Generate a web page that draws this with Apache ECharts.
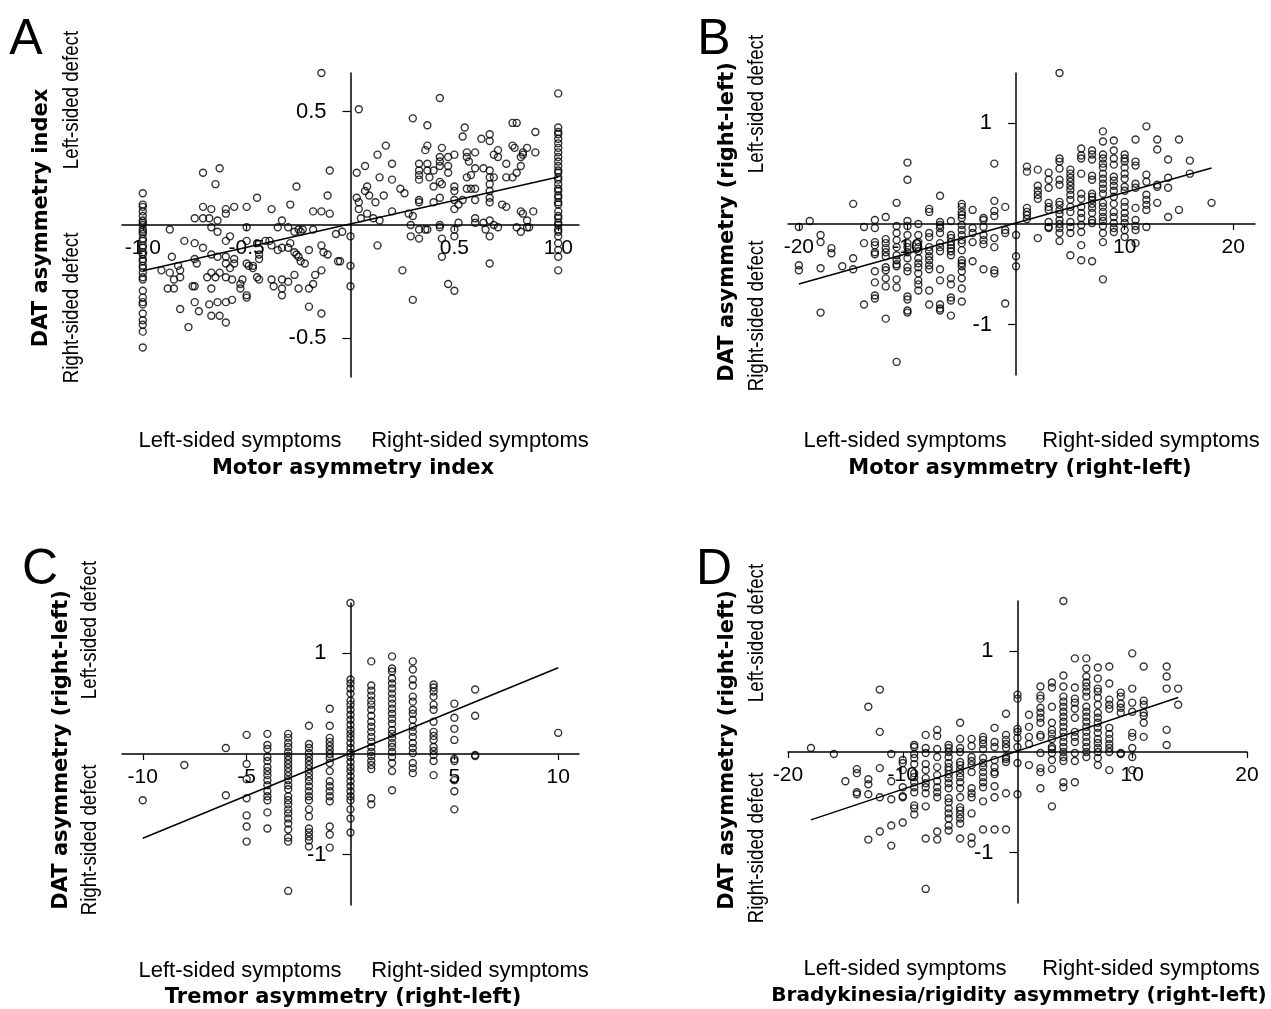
<!DOCTYPE html>
<html>
<head>
<meta charset="utf-8">
<title>DAT asymmetry vs motor asymmetry</title>
<script src="https://cdn.jsdelivr.net/npm/echarts@6/dist/echarts.min.js"></script>
<style>
  html, body { margin: 0; padding: 0; background: #fff; }
  #chart { width: 1271px; height: 1009px; }
</style>
</head>
<body>
<div id="chart"></div>
<script>
// ---- panel A : motor asymmetry index vs DAT asymmetry index ----
var colA_left = [0.14, 0.09, 0.08, 0.06, 0.04, 0.02, 0.01, 0, -0.02, -0.03, -0.04, -0.06, -0.07, -0.09, -0.10, -0.12, -0.13, -0.15, -0.16, -0.18, -0.19, -0.21, -0.23, -0.24, -0.29, -0.32, -0.34, -0.35, -0.39, -0.42, -0.44, -0.47, -0.54];
var colA_right = [0.58, 0.43, 0.41, 0.40, 0.38, 0.36, 0.34, 0.32, 0.30, 0.28, 0.26, 0.24, 0.23, 0.21, 0.20, 0.18, 0.16, 0.15, 0.13, 0.12, 0.10, 0.09, 0.06, 0.04, 0.03, 0.01, 0, -0.02, -0.03, -0.05, -0.08, -0.11, -0.14, -0.20];
var pointsA = [
  [-0.14,0.67],[-0.71,0.23],[-0.63,0.25],[-0.65,0.18],[-0.10,0.24],[-0.26,0.17],[-0.11,0.13],[-0.45,0.12],[-0.29,0.09],[-0.38,0.07],
  [-0.50,0.08],[-0.56,0.08],[-0.60,0.07],[-0.60,0.05],[-0.71,0.08],[-0.67,0.07],[-0.75,0.03],[-0.71,0.03],[-0.68,0.03],[-0.64,0.02],
  [-0.67,-0.01],[-0.64,-0.03],[-0.87,-0.02],[-0.80,-0.07],[-0.75,-0.08],[-0.71,-0.10],[-0.86,-0.14],[-0.91,-0.20],[-0.87,-0.21],[-0.83,-0.18],
  [-0.82,-0.20],[-0.85,-0.24],[-0.82,-0.23],[-0.88,-0.28],[-0.85,-0.28],[-0.76,-0.27],[-0.75,-0.27],[-0.74,-0.17],[-0.75,-0.15],[-0.82,-0.37],
  [-0.75,-0.34],[-0.73,-0.38],[-0.78,-0.45],[-0.68,-0.35],[-0.67,-0.40],[-0.64,-0.34],[-0.63,-0.40],[-0.60,-0.34],[-0.60,-0.43],[-0.57,-0.33],
  [-0.67,-0.28],[-0.69,-0.23],[-0.67,-0.21],[-0.65,-0.23],[-0.63,-0.21],[-0.67,-0.13],[-0.64,-0.14],[-0.60,-0.07],[-0.58,-0.05],[-0.60,-0.14],
  [-0.60,-0.17],[-0.58,-0.19],[-0.56,-0.17],[-0.56,-0.15],[-0.60,-0.23],[-0.57,-0.24],[-0.52,-0.24],[-0.53,-0.26],[-0.53,-0.28],[-0.50,-0.31],
  [-0.50,-0.32],[-0.50,-0.17],[-0.49,-0.18],[-0.47,-0.18],[-0.47,-0.19],[-0.45,-0.23],[-0.44,-0.24],[-0.44,-0.15],[-0.44,-0.13],[-0.50,-0.07],
  [-0.50,-0.01],[-0.45,-0.08],[-0.41,-0.07],[-0.39,-0.07],[-0.38,-0.09],[-0.35,-0.11],[-0.33,-0.10],[-0.30,-0.10],[-0.29,-0.08],[-0.35,-0.01],
  [-0.33,0.02],[-0.30,-0.01],[-0.27,-0.03],[-0.25,-0.02],[-0.24,-0.03],[-0.23,-0.02],[-0.27,-0.12],[-0.26,-0.13],[-0.25,-0.14],[-0.24,-0.16],
  [-0.22,-0.17],[-0.20,-0.11],[-0.18,-0.02],[-0.18,0.06],[-0.14,0.06],[-0.10,0.05],[-0.14,-0.09],[-0.13,-0.12],[-0.11,-0.13],[-0.06,-0.16],
  [-0.07,-0.04],[-0.04,-0.03],[-0.14,-0.20],[-0.17,-0.22],[-0.18,-0.26],[-0.20,-0.28],[-0.25,-0.28],[-0.27,-0.22],[-0.30,-0.25],[-0.33,-0.24],
  [-0.33,-0.28],[-0.33,-0.31],[-0.37,-0.27],[-0.38,-0.24],[-0.20,-0.36],[-0.14,-0.39],[0,-0.05],[0,-0.18],[0,-0.27],[-0.05,-0.16],
  [0.04,0.51],[0.43,0.56],[0.30,0.47],[0.37,0.44],[0.55,0.43],[0.54,0.39],[0.63,0.38],[0.67,0.40],[0.67,0.37],[0.78,0.45],
  [0.80,0.45],[0.89,0.41],[0.17,0.35],[0.13,0.31],[0.07,0.26],[0.03,0.23],[0.20,0.27],[0.14,0.21],[0.20,0.20],[0.08,0.17],
  [0.07,0.15],[0.09,0.13],[0.03,0.12],[0.04,0.10],[0.04,0.07],[0.12,0.10],[0.16,0.13],[0.24,0.16],[0.26,0.14],[0.08,0.05],
  [0.05,0.03],[0.11,0.03],[0.14,0.02],[0.20,0.06],[0.28,0.05],[0.30,0.04],[0.29,0.00],[0.29,-0.05],[0.33,-0.06],[0.33,-0.02],
  [0.36,-0.02],[0.37,-0.02],[0.43,0.00],[0.43,-0.01],[0.44,-0.06],[0.44,-0.14],[0.50,-0.02],[0.50,-0.05],[0.52,0.01],[0.13,-0.09],
  [0.25,-0.20],[0.30,-0.33],[0.47,-0.26],[0.50,-0.29],[0.67,-0.17],[0.67,-0.05],[0.33,0.27],[0.33,0.24],[0.33,0.22],[0.33,0.20],
  [0.36,0.33],[0.37,0.35],[0.37,0.27],[0.37,0.24],[0.38,0.21],[0.40,0.24],[0.40,0.17],[0.43,0.30],[0.43,0.28],[0.43,0.26],
  [0.44,0.34],[0.43,0.19],[0.44,0.18],[0.47,0.30],[0.47,0.26],[0.47,0.23],[0.50,0.31],[0.50,0.17],[0.50,0.15],[0.50,0.11],
  [0.50,0.07],[0.52,0.09],[0.54,0.11],[0.56,0.32],[0.56,0.30],[0.57,0.28],[0.56,0.21],[0.56,0.16],[0.58,0.22],[0.58,0.16],
  [0.60,0.32],[0.60,0.25],[0.60,0.16],[0.60,0.11],[0.60,0.03],[0.60,0.01],[0.64,0.25],[0.64,0.01],[0.65,-0.02],[0.67,0.24],
  [0.67,0.21],[0.67,0.18],[0.67,0.15],[0.67,0.12],[0.67,0.10],[0.67,0.02],[0.69,0.21],[0.69,0.00],[0.71,0.33],[0.71,0.30],
  [0.69,0.31],[0.71,-0.01],[0.73,0.09],[0.75,0.08],[0.75,0.21],[0.75,0.27],[0.78,0.35],[0.79,0.34],[0.78,0.21],[0.80,0.23],
  [0.80,-0.01],[0.82,0.26],[0.82,0.30],[0.83,0.32],[0.83,0.31],[0.85,0.34],[0.89,0.32],[0.82,0.06],[0.83,0.05],[0.82,-0.03],
  [0.85,0.02],[0.85,-0.01],[0.86,-0.01],[0.88,0.06],[0.33,0.11],[0.33,0.10],[0.40,0.10],[0.43,0.12]
];

// ---- panel B : motor asymmetry (right-left), columns [x, ys] ----
var colsB = [
  [-20, [-0.03, -0.41, -0.46]],
  [-19, [0.03]],
  [-18, [-0.11, -0.18, -0.44, -0.88]],
  [-17, [-0.24, -0.29]],
  [-16, [-0.42]],
  [-15, [0.2, -0.34, -0.45]],
  [-14, [-0.03, -0.19, -0.8]],
  [-13, [0.04, -0.04, -0.18, -0.21, -0.28, -0.3, -0.47, -0.58, -0.71, -0.74]],
  [-12, [0.07, -0.15, -0.19, -0.24, -0.28, -0.32, -0.43, -0.46, -0.54, -0.62, -0.94]],
  [-11, [0.21, -0.02, -0.09, -0.16, -0.23, -0.31, -0.36, -0.4, -0.42, -0.55, -0.63, -1.37]],
  [-10, [0.61, 0.44, 0.03, -0.02, -0.11, -0.19, -0.23, -0.28, -0.34, -0.43, -0.47, -0.72, -0.75, -0.86, -0.88]],
  [-9, [0, -0.11, -0.18, -0.23, -0.27, -0.34, -0.39, -0.43, -0.49, -0.56, -0.6, -0.66]],
  [-8, [0.15, 0.12, -0.09, -0.13, -0.23, -0.27, -0.32, -0.36, -0.41, -0.45, -0.66, -0.8]],
  [-7, [0.28, 0.02, -0.01, -0.04, -0.09, -0.19, -0.23, -0.27, -0.45, -0.56, -0.8, -0.84, -0.86]],
  [-6, [0.03, -0.11, -0.14, -0.18, -0.21, -0.24, -0.27, -0.31, -0.54, -0.6, -0.73, -0.76, -0.91]],
  [-5, [0.2, 0.17, 0.12, 0.09, 0.06, -0.01, -0.06, -0.11, -0.16, -0.19, -0.26, -0.36, -0.39, -0.42, -0.47, -0.54, -0.64, -0.77]],
  [-4, [0.14, -0.04, -0.09, -0.18, -0.37]],
  [-3, [0.06, 0.04, -0.03, -0.11, -0.16, -0.2, -0.45]],
  [-2, [0.6, 0.23, 0.13, 0.08, -0.14, -0.23, -0.46, -0.49]],
  [-1, [0.17, -0.06, -0.09, -0.79]],
  [0, [-0.11, -0.32, -0.42]],
  [1, [0.57, 0.52, 0.16, 0.12, 0.09, 0.05]],
  [2, [0.54, 0.38, 0.33, 0.29, 0.25, -0.14]],
  [3, [0.51, 0.44, 0.36, 0.21, 0.17, 0.14, 0.02, -0.03, -0.04]],
  [4, [1.5, 0.65, 0.62, 0.55, 0.44, 0.39, 0.22, 0.19, 0.14, 0.1, 0.04, 0, -0.04, -0.09, -0.17]],
  [5, [0.54, 0.5, 0.46, 0.42, 0.38, 0.34, 0.29, 0.24, 0.17, 0.12, 0.02, -0.03, -0.09, -0.31]],
  [6, [0.75, 0.68, 0.65, 0.5, 0.3, 0.25, 0.17, 0.11, 0.06, -0.01, -0.08, -0.21, -0.36]],
  [7, [0.73, 0.69, 0.64, 0.48, 0.44, 0.3, 0.27, 0.24, 0.2, 0.16, 0.11, 0.04, 0.01, -0.37]],
  [8, [0.92, 0.82, 0.69, 0.65, 0.6, 0.56, 0.5, 0.45, 0.4, 0.35, 0.3, 0.21, 0.17, 0.12, 0.07, 0.03, -0.02, -0.09, -0.18, -0.55]],
  [9, [0.83, 0.73, 0.65, 0.59, 0.47, 0.43, 0.38, 0.33, 0.27, 0.2, 0.12, 0.07, 0.01, -0.04, -0.08]],
  [10, [0.69, 0.65, 0.62, 0.56, 0.5, 0.45, 0.37, 0.33, 0.22, 0.17, 0.11, 0.06, 0.01, -0.06, -0.13]],
  [11, [0.84, 0.62, 0.58, 0.4, 0.36, 0.16, 0.04, -0.02, -0.06, -0.19]],
  [12, [0.97, 0.49, 0.42, 0.29, 0.24, 0.19, 0.14, -0.03]],
  [13, [0.84, 0.74, 0.39, 0.37, 0.21]],
  [14, [0.64, 0.46, 0.36, 0.07]],
  [15, [0.84, 0.14]],
  [16, [0.63, 0.5]],
  [18, [0.21]]
];

// ---- panel C : tremor asymmetry (right-left) ----
var colsC = [
  [-10, [-0.46]],
  [-8, [-0.11]],
  [-6, [0.06, -0.41]],
  [-5, [0.19, -0.1, -0.25, -0.44, -0.61, -0.72, -0.87]],
  [-4, [0.2, 0.09, 0.05, -0.03, -0.07, -0.13, -0.17, -0.21, -0.26, -0.31, -0.37, -0.42, -0.46, -0.58, -0.74]],
  [-3, [0.2, 0.16, 0.11, 0.07, 0.02, -0.02, -0.06, -0.1, -0.14, -0.18, -0.22, -0.26, -0.31, -0.35, -0.42, -0.46, -0.5, -0.55, -0.59, -0.64, -0.69, -0.75, -0.83, -0.87, -1.36]],
  [-2, [0.28, 0.1, 0.06, 0.01, -0.03, -0.07, -0.11, -0.15, -0.19, -0.23, -0.27, -0.32, -0.37, -0.42, -0.46, -0.55, -0.62, -0.74, -0.78, -0.82, -0.86, -0.92]],
  [-1, [0.45, 0.28, 0.16, 0.12, 0.08, 0.04, 0, -0.04, -0.09, -0.17, -0.27, -0.32, -0.37, -0.42, -0.47, -0.72, -0.8, -0.93]],
  [0, [1.5, 0.74, 0.7, 0.65, 0.6, 0.53, 0.49, 0.44, 0.39, 0.34, 0.29, 0.24, 0.2, 0.16, 0.11, 0.06, 0.01, -0.03, -0.08, -0.13, -0.17, -0.22, -0.27, -0.32, -0.37, -0.42, -0.46, -0.55, -0.64, -0.78]],
  [1, [0.92, 0.68, 0.63, 0.58, 0.53, 0.49, 0.44, 0.38, 0.32, 0.27, 0.22, 0.17, 0.12, 0.07, 0.02, -0.02, -0.07, -0.11, -0.15, -0.44, -0.5]],
  [2, [0.97, 0.85, 0.82, 0.75, 0.7, 0.65, 0.6, 0.55, 0.5, 0.45, 0.4, 0.35, 0.3, 0.24, 0.2, 0.16, 0.11, 0.07, 0.02, -0.03, -0.09, -0.17, -0.36]],
  [3, [0.92, 0.84, 0.74, 0.68, 0.57, 0.52, 0.44, 0.4, 0.34, 0.27, 0.22, 0.17, 0.11, 0.06, 0.01, -0.09, -0.14, -0.19]],
  [4, [0.69, 0.66, 0.62, 0.57, 0.49, 0.44, 0.32, 0.22, 0.18, 0.14, 0.07, 0.03, -0.01, -0.07, -0.21]],
  [5, [0.5, 0.36, 0.25, 0.14, -0.05, -0.07, -0.26, -0.37, -0.55]],
  [6, [0.64, 0.38, -0.01, -0.02]],
  [10, [0.21]]
];

// ---- panel D : bradykinesia/rigidity asymmetry (right-left) ----
var colsD = [
  [-18, [0.04]],
  [-16, [-0.02]],
  [-15, [-0.29]],
  [-14, [-0.17, -0.21, -0.4, -0.42]],
  [-13, [0.45, -0.27, -0.32, -0.42, -0.87]],
  [-12, [0.62, 0.2, -0.16, -0.45, -0.79]],
  [-11, [-0.02, -0.29, -0.47, -0.73, -0.93]],
  [-10, [-0.08, -0.11, -0.18, -0.35, -0.44, -0.45, -0.7]],
  [-9, [0.07, 0.05, -0.02, -0.06, -0.12, -0.21, -0.25, -0.3, -0.35, -0.4, -0.53, -0.56, -0.62]],
  [-8, [0.17, 0.04, -0.01, -0.12, -0.18, -0.26, -0.31, -0.35, -0.41, -0.54, -0.86, -1.36]],
  [-7, [0.22, 0.16, 0.03, -0.05, -0.15, -0.23, -0.29, -0.35, -0.4, -0.45, -0.79, -0.87]],
  [-6, [0.07, 0.04, 0, -0.05, -0.11, -0.15, -0.18, -0.22, -0.26, -0.31, -0.36, -0.46, -0.5, -0.56, -0.61, -0.66, -0.73, -0.78]],
  [-5, [0.29, 0.13, 0.04, 0, -0.1, -0.13, -0.17, -0.21, -0.25, -0.3, -0.36, -0.45, -0.55, -0.58, -0.62, -0.66, -0.71, -0.86]],
  [-4, [0.13, 0.06, -0.05, -0.09, -0.13, -0.2, -0.36, -0.41, -0.45, -0.61, -0.85, -0.91]],
  [-3, [0.15, 0.12, 0.08, 0.03, -0.06, -0.11, -0.15, -0.2, -0.25, -0.3, -0.35, -0.49, -0.77]],
  [-2, [0.24, 0.1, 0.05, -0.08, -0.15, -0.2, -0.22, -0.34, -0.45, -0.77]],
  [-1, [0.38, 0.17, 0.12, 0.08, 0.04, -0.05, -0.07, -0.1, -0.41, -0.77]],
  [0, [0.57, 0.53, 0.23, 0.2, 0.14, 0.05, -0.11, -0.42]],
  [1, [0.37, 0.25, 0.15, 0.08, -0.13]],
  [2, [0.65, 0.56, 0.53, 0.44, 0.39, 0.34, 0.29, 0.17, 0.15, -0.01, -0.16, -0.2, -0.36]],
  [3, [0.69, 0.64, 0.45, 0.29, 0.22, 0.18, 0.13, 0.05, 0.03, -0.01, -0.08, -0.17, -0.54]],
  [4, [1.5, 0.76, 0.65, 0.55, 0.5, 0.45, 0.4, 0.35, 0.3, 0.25, 0.2, 0.15, 0.1, 0.05, 0, -0.05, -0.09, -0.3, -0.35]],
  [5, [0.93, 0.64, 0.53, 0.49, 0.43, 0.34, 0.2, 0.15, 0.1, -0.01, -0.09, -0.3]],
  [6, [0.93, 0.83, 0.75, 0.69, 0.65, 0.6, 0.55, 0.45, 0.4, 0.35, 0.3, 0.25, 0.2, 0.15, 0.1, 0.05, 0, -0.05]],
  [7, [0.84, 0.73, 0.63, 0.6, 0.54, 0.47, 0.39, 0.34, 0.29, 0.24, 0.19, 0.13, 0.09, 0.04, 0, -0.06, -0.13]],
  [8, [0.85, 0.68, 0.52, 0.47, 0.43, 0.24, 0.18, 0.13, 0.08, 0.04, 0, -0.18]],
  [9, [0.59, 0.55, 0.48, 0.44, 0.39, -0.01, -0.02]],
  [10, [0.98, 0.63, 0.49, 0.4, 0.19, 0.15, 0.04, -0.05, -0.18]],
  [11, [0.85, 0.51, 0.47, 0.39, 0.36, 0.29, 0.15]],
  [13, [0.85, 0.75, 0.63, 0.22, 0.07]],
  [14, [0.63, 0.47]]
];

// regression lines: [intercept, slope]
var fitA = [0.005, 0.207];
var fitB = [0.01, 0.0303];
var fitC = [0.01, 0.0847];
var fitD = [0.01, 0.038];

// tick labels shown on each axis (zero is not labelled)
var ticksAX = [-1, -0.5, 0.5, 1];
var ticksAY = [-0.5, 0.5];
var ticksBX = [-20, -10, 10, 20];
var ticksCX = [-10, -5, 5, 10];
var ticksDX = [-20, -10, 10, 20];
var ticksY = [-1, 1];

function fromCols(cols) {
  var out = [];
  cols.forEach(function (c) {
    c[1].forEach(function (y) { out.push([c[0], y]); });
  });
  return out;
}

var dataA = pointsA.concat(
  colA_left.map(function (y) { return [-1, y]; }),
  colA_right.map(function (y) { return [1, y]; })
);
var dataB = fromCols(colsB);
var dataC = fromCols(colsC);
var dataD = fromCols(colsD);

function fitLine(data, fit) {
  var xs = data.map(function (d) { return d[0]; });
  var x0 = Math.min.apply(null, xs), x1 = Math.max.apply(null, xs);
  return [[x0, fit[0] + fit[1] * x0], [x1, fit[0] + fit[1] * x1]];
}

var FONT = '"Liberation Sans", Arial, Helvetica, sans-serif';

// panel boxes and ranges
var panels = [
  { grid: { left: 122, top: 73, width: 457, height: 304 }, x: [-1.1, 1.1], y: [-0.67, 0.67] },
  { grid: { left: 788, top: 73, width: 467, height: 302 }, x: [-21, 22], y: [-1.5, 1.5] },
  { grid: { left: 122, top: 603, width: 457, height: 302 }, x: [-11, 11], y: [-1.5, 1.5] },
  { grid: { left: 788, top: 601, width: 459, height: 302 }, x: [-20, 20], y: [-1.5, 1.5] }
];

// axes are shifted (offset) so that line, ticks and labels all sit on zero
function xAxisOf(i, ticks, fmt) {
  var p = panels[i];
  var off = -p.grid.height * (-p.y[0]) / (p.y[1] - p.y[0]);
  return {
    type: 'value', gridIndex: i, min: p.x[0], max: p.x[1], position: 'bottom', offset: off,
    axisLine: { onZero: false, lineStyle: { color: '#000', width: 1.5 } },
    axisTick: { customValues: ticks, length: 6, lineStyle: { color: '#000', width: 1.2 } },
    axisLabel: { customValues: ticks, formatter: fmt, color: '#000', fontSize: 21, fontFamily: FONT, margin: 13 },
    splitLine: { show: false }
  };
}
function yAxisOf(i, ticks, fmt) {
  var p = panels[i];
  var off = -p.grid.width * (-p.x[0]) / (p.x[1] - p.x[0]);
  return {
    type: 'value', gridIndex: i, min: p.y[0], max: p.y[1], position: 'left', offset: off,
    axisLine: { onZero: false, lineStyle: { color: '#000', width: 1.5 } },
    axisTick: { customValues: ticks, length: 8, lineStyle: { color: '#000', width: 1.2 } },
    axisLabel: { customValues: ticks, formatter: fmt, color: '#000', fontSize: 22, fontFamily: FONT, margin: 24 },
    splitLine: { show: false }
  };
}
var fmt1 = function (v) { return v.toFixed(1); };
var fmt0 = function (v) { return String(v); };

function scatter(i, data) {
  return {
    type: 'scatter', xAxisIndex: i, yAxisIndex: i, data: data,
    symbol: 'circle', symbolSize: 7, clip: false, silent: true,
    itemStyle: { color: 'rgba(0,0,0,0)', borderColor: '#000', borderWidth: 1.4 }
  };
}
function line(i, pts) {
  return {
    type: 'line', xAxisIndex: i, yAxisIndex: i, data: pts,
    showSymbol: false, silent: true, z: 3,
    lineStyle: { color: '#000', width: 1.5 }
  };
}

// text helpers for labels drawn around each panel
function txt(x, y, s, font, rot, sx) {
  return {
    type: 'text', x: x, y: y, rotation: rot || 0, scaleX: sx || 1, silent: true,
    style: { text: s, x: 0, y: 0, align: 'center', verticalAlign: 'middle', font: font, fill: '#000' }
  };
}
var R90 = Math.PI / 2;
var fBig = '50px ' + FONT;
var fSide = '22px ' + FONT;
var SX = 0.85;
var BOLD = 'bold 21px "DejaVu Sans", ' + FONT;
var fBot = '22px ' + FONT;

var graphics = [
  txt(26, 40, 'A', fBig), txt(714, 40, 'B', fBig), txt(40, 570, 'C', fBig), txt(714, 570, 'D', fBig),
  // A
  txt(42, 218, 'DAT asymmetry index', BOLD, R90),
  txt(72, 100, 'Left-sided defect', fSide, R90, SX),
  txt(72, 308, 'Right-sided defect', fSide, R90, SX),
  txt(240, 441, 'Left-sided symptoms', fBot),
  txt(480, 441, 'Right-sided symptoms', fBot),
  txt(353, 469, 'Motor asymmetry index', BOLD),
  // B
  txt(728, 222, 'DAT asymmetry (right-left)', BOLD, R90),
  txt(757, 104, 'Left-sided defect', fSide, R90, SX),
  txt(757, 316, 'Right-sided defect', fSide, R90, SX),
  txt(905, 441, 'Left-sided symptoms', fBot),
  txt(1151, 441, 'Right-sided symptoms', fBot),
  txt(1020, 469, 'Motor asymmetry (right-left)', BOLD),
  // C
  txt(62, 750, 'DAT asymmetry (right-left)', BOLD, R90),
  txt(90, 630, 'Left-sided defect', fSide, R90, SX),
  txt(90, 840, 'Right-sided defect', fSide, R90, SX),
  txt(240, 971, 'Left-sided symptoms', fBot),
  txt(480, 971, 'Right-sided symptoms', fBot),
  txt(343, 998, 'Tremor asymmetry (right-left)', BOLD),
  // D
  txt(728, 750, 'DAT asymmetry (right-left)', BOLD, R90),
  txt(757, 633, 'Left-sided defect', fSide, R90, SX),
  txt(757, 848, 'Right-sided defect', fSide, R90, SX),
  txt(905, 969, 'Left-sided symptoms', fBot),
  txt(1151, 969, 'Right-sided symptoms', fBot),
  txt(1019, 996, 'Bradykinesia/rigidity asymmetry (right-left)', 'bold 20px "DejaVu Sans", ' + FONT)
];

var chart = echarts.init(document.getElementById('chart'));
var option = {
  backgroundColor: '#fff',
  animation: false,
  grid: panels.map(function (p) { return p.grid; }),
  xAxis: [
    xAxisOf(0, ticksAX, fmt1),
    xAxisOf(1, ticksBX, fmt0),
    xAxisOf(2, ticksCX, fmt0),
    xAxisOf(3, ticksDX, fmt0)
  ],
  yAxis: [
    yAxisOf(0, ticksAY, fmt1),
    yAxisOf(1, ticksY, fmt0),
    yAxisOf(2, ticksY, fmt0),
    yAxisOf(3, ticksY, fmt0)
  ],
  series: [
    scatter(0, dataA), line(0, fitLine(dataA, fitA)),
    scatter(1, dataB), line(1, fitLine(dataB, fitB)),
    scatter(2, dataC), line(2, fitLine(dataC, fitC)),
    scatter(3, dataD), line(3, fitLine(dataD, fitD))
  ],
  graphic: graphics
};
chart.setOption(option);
</script>
</body>
</html>
